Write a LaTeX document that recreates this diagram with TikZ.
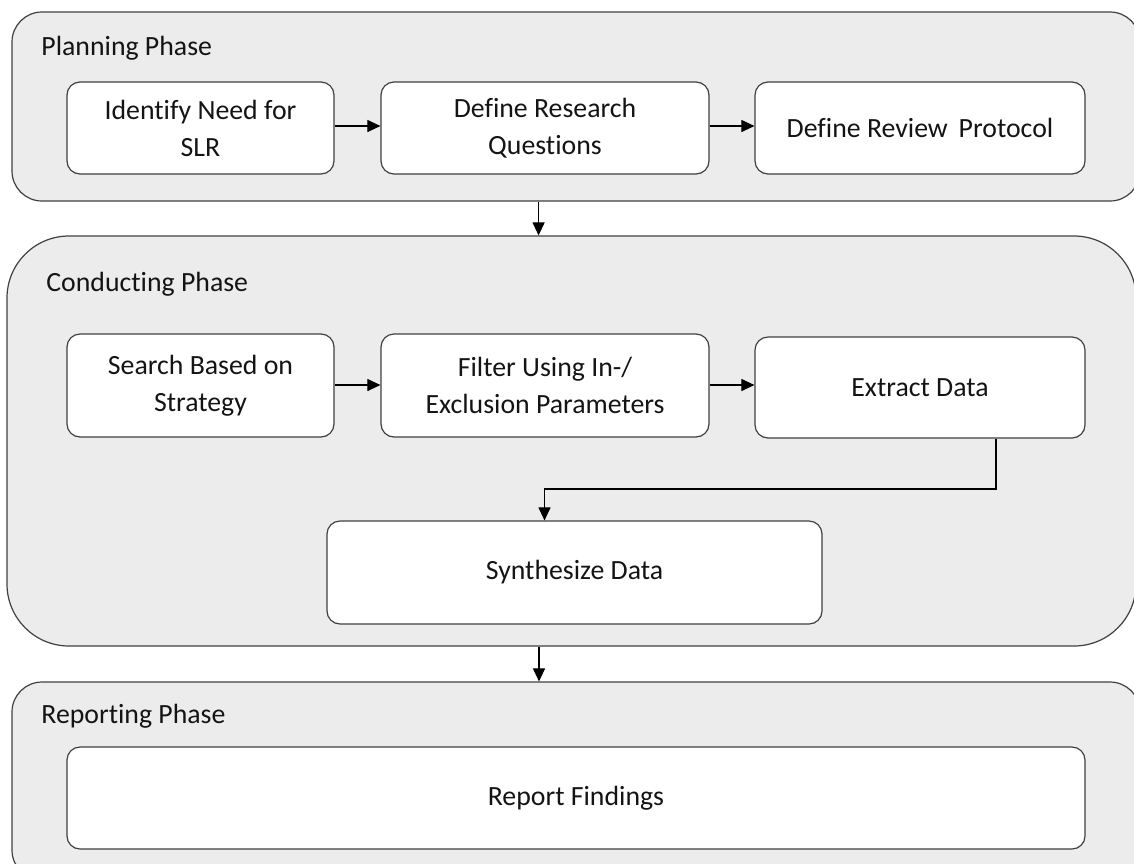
\documentclass[tikz,border=0pt]{standalone}
\usepackage{fontspec}
\setmainfont{Carlito}[Ligatures=NoCommon]
\usetikzlibrary{arrows.meta}

\definecolor{phasefill}{HTML}{ECECEC}
\definecolor{edgegray}{HTML}{404040}
\definecolor{inktext}{HTML}{141414}

\tikzset{
  phase/.style={draw=edgegray, fill=phasefill, line width=0.6pt, inner sep=0pt},
  stepbox/.style={draw=edgegray, fill=white, line width=0.6pt, rounded corners=6.5pt,
    inner sep=0pt, align=center, text=inktext,
    font=\fontsize{13.9}{18.5}\selectfont},
  phaselabel/.style={anchor=base west, inner sep=0pt, text=inktext,
    font=\fontsize{13.9}{18.5}\selectfont},
  flow/.style={draw=black, line width=0.55pt, -{Triangle[length=6.5pt,width=6pt]}}
}

\begin{document}
\begin{tikzpicture}[x=0.5pt,y=-0.5pt]
  \useasboundingbox (0,0) rectangle (1134,863);
  \clip (0,0) rectangle (1134,863);

  % phase containers (their right sides run past the page edge)
  \node[phase, rounded corners=15pt, minimum width=564pt, minimum height=94.5pt]
    (plan) at (576,106.5) {};
  \node[phase, rounded corners=31pt, minimum width=564.5pt, minimum height=205pt]
    (cond) at (571.5,441) {};
  \node[phase, rounded corners=15pt, minimum width=564pt, minimum height=99pt]
    (rep) at (576,781) {};

  % phase titles
  \node[phaselabel] (planlbl) at (41,55) {Planning Phase};
  \node[phaselabel] (condlbl) at (46,291) {Conducting Phase};
  \node[phaselabel] (replbl) at (41,723) {Reporting Phase};

  % planning steps
  \node[stepbox, minimum width=133.5pt, minimum height=46pt] (need) at (200.5,128)
    {Identify Need for\\SLR};
  \node[stepbox, minimum width=164pt, minimum height=46pt] (rq) at (545,128)
    {Define Research\\Questions};
  \node[stepbox, minimum width=165pt, minimum height=46pt] (protocol) at (920,128)
    {Define Review\ \,Protocol};

  % conducting steps
  \node[stepbox, minimum width=133.5pt, minimum height=51.5pt] (search) at (200.5,385.5)
    {Search Based on\\Strategy};
  \node[stepbox, minimum width=164pt, minimum height=51.5pt] (filter) at (545,385.5)
    {Filter Using In-/\\Exclusion Parameters};
  \node[stepbox, minimum width=165pt, minimum height=50.5pt] (extract) at (920,387.5)
    {Extract Data};
  \node[stepbox, minimum width=247.5pt, minimum height=51.5pt] (synth) at (574.5,572.5)
    {Synthesize Data};

  % reporting step
  \node[stepbox, minimum width=509pt, minimum height=51pt] (report) at (576,798)
    {Report Findings};

  % routing points
  \coordinate (xA) at (538.6,0);
  \coordinate (xB) at (539,0);
  \coordinate (xC) at (996,0);
  \coordinate (xD) at (544.5,0);
  \coordinate (yE) at (0,489);
  \coordinate (yR) at (0,126);
  \coordinate (yS) at (0,385);

  % connectors
  \draw[flow] (need.east |- yR) -- (rq.west |- yR);
  \draw[flow] (rq.east |- yR) -- (protocol.west |- yR);
  \draw[flow] (plan.south -| xA) -- (cond.north -| xA);

  \draw[flow] (search.east |- yS) -- (filter.west |- yS);
  \draw[flow] (filter.east |- yS) -- (extract.west |- yS);
  \draw[flow] (extract.south -| xC) -- (xC |- yE) -- (xD |- yE) -- (synth.north -| xD);
  \draw[flow] (cond.south -| xB) -- (rep.north -| xB);
\end{tikzpicture}
\end{document}
